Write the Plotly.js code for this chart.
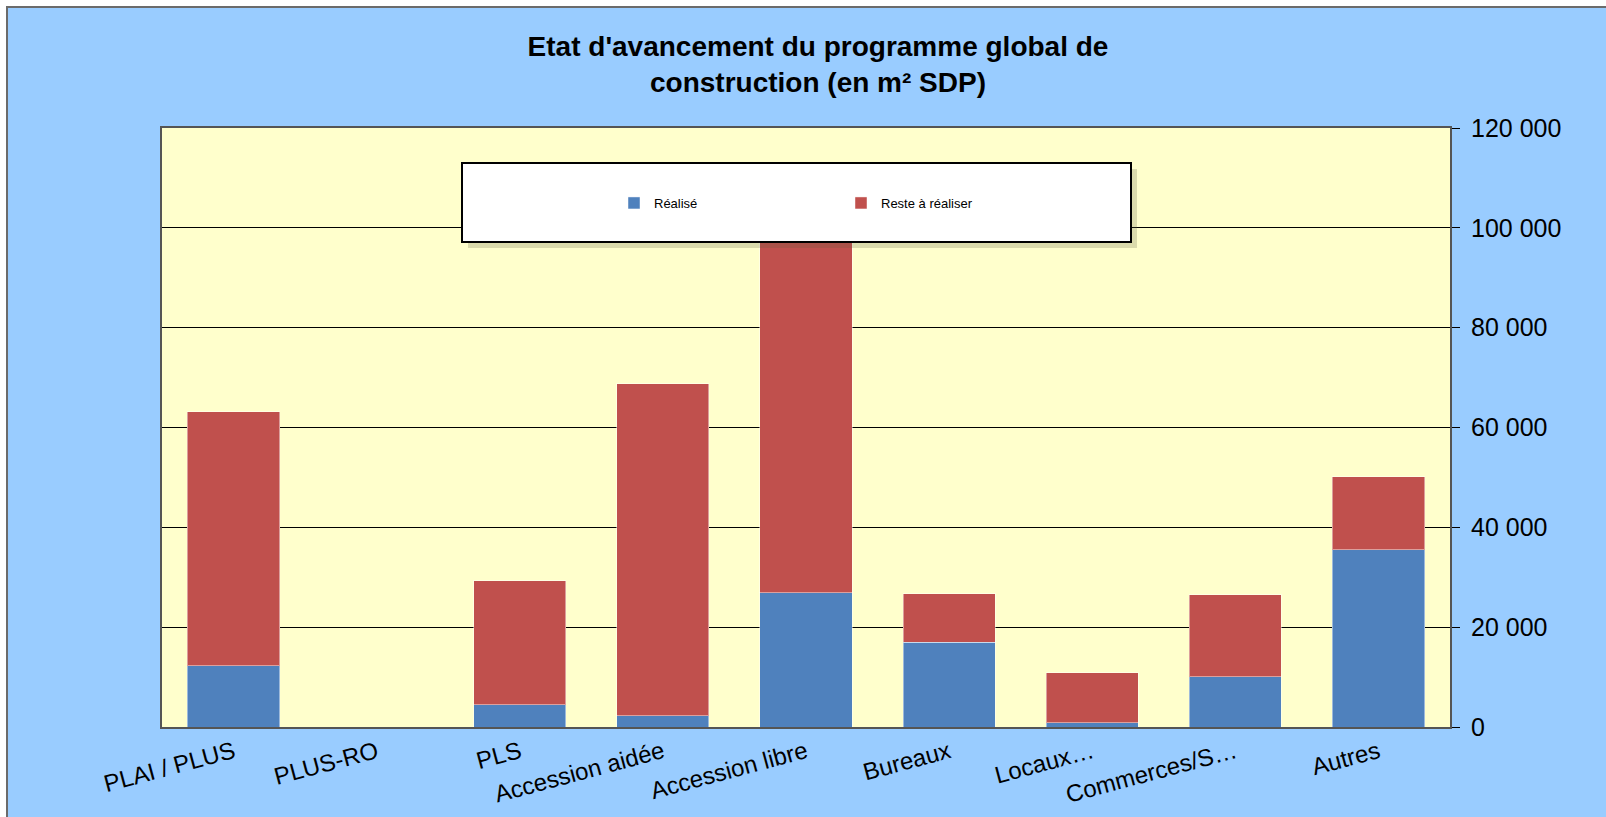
<!DOCTYPE html>
<html>
<head>
<meta charset="utf-8">
<script src="https://cdn.plot.ly/plotly-3.0.1.min.js"></script>
<style>
  html, body { margin: 0; padding: 0; background: #ffffff; overflow: hidden; }
  #wrap { position: absolute; left: 6px; top: 6px; border-top: 2px solid #6b6b6b; border-left: 2px solid #6b6b6b; }
  #chart { width: 1598px; height: 809px; }
</style>
</head>
<body>
<div id="wrap"><div id="chart"></div></div>
<script>
const categories = ["PLAI / PLUS", "PLUS-RO", "PLS", "Accession aidée", "Accession libre", "Bureaux", "Locaux…", "Commerces/S…", "Autres"];
const realise = [12300, 0, 4500, 2250, 26900, 17000, 850, 10050, 35500];
const totals = [63200, 0, 29300, 68800, 101000, 26700, 10900, 26500, 50100];
const resteARealiser = totals.map((t, i) => t - realise[i]);
const seriesNames = ["Réalisé", "Reste à réaliser"];
const yTicks = [0, 20000, 40000, 60000, 80000, 100000, 120000];

const fontFam = '"Liberation Sans", Arial, Helvetica, sans-serif';

const traces = [
  {
    type: 'bar', name: seriesNames[0], x: categories, y: realise,
    marker: { color: '#4F81BD', line: { color: 'rgba(255,255,255,0.45)', width: 1 } }
  },
  {
    type: 'bar', name: seriesNames[1], x: categories, y: resteARealiser,
    marker: { color: '#C0504D', line: { color: 'rgba(255,255,255,0.45)', width: 1 } }
  }
];

const W = 1598, H = 809;
const mL = 154, mR = 156, mT = 120, mB = 90;
const pw = W - mL - mR, ph = H - mT - mB;
// legend box in div pixel coords
const lbx0 = 454, lbx1 = 1123, lby0 = 155, lby1 = 234;
const px2x = p => (p - mL) / pw;
const px2y = p => 1 - (p - mT) / ph;

const layout = {
  width: W, height: H,
  paper_bgcolor: '#99CCFF',
  plot_bgcolor: '#FFFFCC',
  separators: ', ',
  barmode: 'stack',
  bargap: 0.356,
  margin: { l: mL, r: mR, t: mT, b: mB, pad: 0 },
  font: { family: fontFam, color: '#000000' },
  title: {
    text: "<b>Etat d'avancement du programme global de<br>construction (en m² SDP)</b>",
    font: { family: fontFam, size: 28, color: '#000000' },
    xref: 'container', x: 810 / W, xanchor: 'center',
    yref: 'container', y: 1 - 48 / H, yanchor: 'top'
  },
  xaxis: {
    type: 'category',
    tickangle: -15,
    tickfont: { family: fontFam, size: 24, color: '#000' },
    showline: true, linecolor: '#555555', linewidth: 2, mirror: true,
    ticks: '', showgrid: false, zeroline: false, fixedrange: true
  },
  yaxis: {
    side: 'right',
    range: [0, 120000],
    tickvals: yTicks,
    tickformat: ',d',
    tickfont: { family: fontFam, size: 25, color: '#000' },
    ticks: 'outside', ticklen: 8, tickcolor: '#000', tickwidth: 1,
    showgrid: true, gridcolor: '#000000', gridwidth: 1,
    showline: true, linecolor: '#555555', linewidth: 2, mirror: true,
    zeroline: false, fixedrange: true, ticklabelstandoff: 6
  },
  showlegend: true,
  legend: {
    orientation: 'h',
    xref: 'paper', yref: 'paper',
    x: px2x(606), xanchor: 'left',
    y: px2y(195), yanchor: 'middle',
    bgcolor: 'rgba(0,0,0,0)', borderwidth: 0,
    font: { family: fontFam, size: 13, color: '#000' },
    entrywidth: 182, entrywidthmode: 'pixels',
    itemwidth: 30, traceorder: 'normal'
  },
  shapes: [
    { type: 'rect', xref: 'paper', yref: 'paper', layer: 'above',
      x0: px2x(lbx0 + 6), x1: px2x(lbx1 + 6), y0: px2y(lby0 + 6), y1: px2y(lby1 + 6),
      fillcolor: 'rgba(90,90,60,0.22)', line: { width: 0 } },
    { type: 'rect', xref: 'paper', yref: 'paper', layer: 'above',
      x0: px2x(lbx0), x1: px2x(lbx1), y0: px2y(lby0), y1: px2y(lby1),
      fillcolor: '#FFFFFF', line: { color: '#000000', width: 2 } }
  ]
};

Plotly.newPlot('chart', traces, layout, { staticPlot: true, displayModeBar: false });
</script>
</body>
</html>
